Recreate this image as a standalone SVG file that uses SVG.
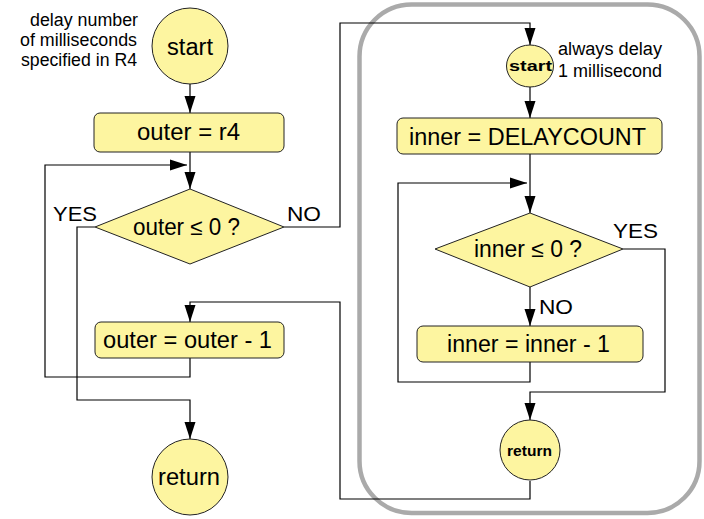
<svg xmlns="http://www.w3.org/2000/svg" width="704" height="519" viewBox="0 0 704 519">
<defs>
<style>
.bg{fill:#ffffff}
.node{fill:#fdf5a0;stroke:#222;stroke-width:1}
.frame{fill:none;stroke:#aaaaaa;stroke-width:4.5}
.conn path{fill:none;stroke:#000;stroke-width:1.2;marker-end:url(#ah)}
text{font-family:"Liberation Sans",Arial,sans-serif;fill:#000}
.t22{font-size:23px}
.t20{font-size:21px}
.t17{font-size:18px}
.t15{font-size:15px;font-weight:bold}
</style>
<marker id="ah" markerUnits="userSpaceOnUse" markerWidth="17" markerHeight="12" refX="17" refY="6" orient="auto">
<path d="M0,0.5 L17,6 L0,11.5 z" fill="#000"/>
</marker>
</defs>
<rect class="bg" x="0" y="0" width="704" height="519"/>
<rect id="frame" class="frame" x="359.5" y="4.5" width="340" height="508.5" rx="52" ry="52"/>

<g id="connectors" class="conn">
<path d="M190,84 V113"/>
<path d="M190,152 V189"/>
<path d="M190,358 V377 H45 V165 H187"/>
<path d="M95,227 H77 V400 H190 V439"/>
<path d="M284,227 H340 V23 H530 V45"/>
<path d="M530,87 V118"/>
<path d="M530,154 V213"/>
<path d="M530,362 V382 H398 V183 H527"/>
<path d="M623,249 H665 V392 H530 V420"/>
<path d="M530,287 V326"/>
<path d="M530,481 V499 H340 V302 H190 V322"/>
</g>

<g id="note-outer">
<text class="t17" x="30" y="26" textLength="108" lengthAdjust="spacingAndGlyphs">delay number</text>
<text class="t17" x="20" y="46" textLength="117" lengthAdjust="spacingAndGlyphs">of milliseconds</text>
<text class="t17" x="21" y="66" textLength="116" lengthAdjust="spacingAndGlyphs">specified in R4</text>
</g>

<g id="start-outer">
<circle class="node" cx="190" cy="46" r="38"/>
<text class="t22" x="167" y="55" textLength="46" lengthAdjust="spacingAndGlyphs">start</text>
</g>

<g id="outer-init">
<rect class="node" x="94" y="113" width="190" height="39" rx="6"/>
<text class="t22" x="137" y="140" textLength="103" lengthAdjust="spacingAndGlyphs">outer = r4</text>
</g>

<g id="outer-test">
<polygon class="node" points="190,189 284,227 190,264 95,227"/>
<text class="t22" x="133" y="235" textLength="107" lengthAdjust="spacingAndGlyphs">outer ≤ 0 ?</text>
</g>

<g id="outer-labels">
<text class="t20" x="53" y="221" textLength="44" lengthAdjust="spacingAndGlyphs">YES</text>
<text class="t20" x="287" y="221" textLength="34" lengthAdjust="spacingAndGlyphs">NO</text>
</g>

<g id="outer-dec">
<rect class="node" x="95" y="322" width="189" height="36" rx="6"/>
<text class="t22" x="103" y="348" textLength="169" lengthAdjust="spacingAndGlyphs">outer = outer - 1</text>
</g>

<g id="return-outer">
<circle class="node" cx="190" cy="477" r="38"/>
<text class="t22" x="158" y="485" textLength="62" lengthAdjust="spacingAndGlyphs">return</text>
</g>

<g id="start-inner">
<ellipse class="node" cx="530" cy="66" rx="23.5" ry="21"/>
<text class="t15" x="509" y="71" textLength="43" lengthAdjust="spacingAndGlyphs">start</text>
</g>

<g id="note-inner">
<text class="t17" x="558" y="55" textLength="104" lengthAdjust="spacingAndGlyphs">always delay</text>
<text class="t17" x="558" y="77" textLength="104" lengthAdjust="spacingAndGlyphs">1 millisecond</text>
</g>

<g id="inner-init">
<rect class="node" x="397" y="118" width="265" height="36" rx="6"/>
<text class="t22" x="409" y="145" textLength="237" lengthAdjust="spacingAndGlyphs">inner = DELAYCOUNT</text>
</g>

<g id="inner-test">
<polygon class="node" points="530,213 623,249 530,287 435,249"/>
<text class="t22" x="474" y="257" textLength="108" lengthAdjust="spacingAndGlyphs">inner ≤ 0 ?</text>
</g>

<g id="inner-labels">
<text class="t20" x="613" y="238" textLength="45" lengthAdjust="spacingAndGlyphs">YES</text>
<text class="t20" x="539" y="314" textLength="34" lengthAdjust="spacingAndGlyphs">NO</text>
</g>

<g id="inner-dec">
<rect class="node" x="417" y="326" width="226" height="36" rx="6"/>
<text class="t22" x="447" y="352" textLength="163" lengthAdjust="spacingAndGlyphs">inner = inner - 1</text>
</g>

<g id="return-inner">
<circle class="node" cx="530" cy="450" r="30"/>
<text class="t15" x="507" y="456" textLength="45" lengthAdjust="spacingAndGlyphs">return</text>
</g>
</svg>
